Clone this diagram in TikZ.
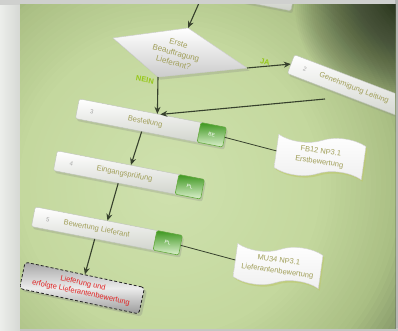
\documentclass[tikz,border=0pt]{standalone}
\usepackage{fontspec}
\setmainfont{Liberation Sans}
\usetikzlibrary{shapes.symbols,shadows,arrows.meta,calc}
\definecolor{vgA}{RGB}{207,225,174}
\definecolor{vgB}{RGB}{196,216,158}
\definecolor{vgC}{RGB}{170,191,132}
\definecolor{vgE}{RGB}{128,146,100}
\definecolor{vgD}{RGB}{60,70,50}
\definecolor{outbg}{RGB}{236,238,235}
\definecolor{outsh}{RGB}{214,216,212}
\definecolor{topband}{RGB}{207,208,206}
\definecolor{rstrip}{RGB}{181,182,180}
\definecolor{olive1}{RGB}{160,158,88}
\definecolor{arrcol}{RGB}{55,65,45}
\definecolor{yescol}{RGB}{150,200,25}
\definecolor{barbot}{RGB}{205,208,200}
\definecolor{barline}{RGB}{190,195,185}
\definecolor{tabtop}{RGB}{60,150,30}
\definecolor{tabbot}{RGB}{222,242,208}
\definecolor{tabline}{RGB}{100,170,60}
\definecolor{docsh}{RGB}{190,200,110}
\definecolor{redtxt}{RGB}{225,35,35}
\definecolor{dkcorner}{RGB}{40,48,34}
\begin{document}
\begin{tikzpicture}[x=1pt,y=-1pt,
  bar/.style={rectangle, rounded corners=2pt, minimum width=150pt, minimum height=20pt, rotate=-11, top color=white, bottom color=barbot, draw=barline, line width=0.4pt, drop shadow={opacity=0.25, shadow xshift=1.5pt, shadow yshift=-2.5pt}},
  tabbox/.style={rectangle, rounded corners=1.5pt, minimum width=26pt, minimum height=20pt, rotate=-11, top color=tabtop, bottom color=tabbot, draw=tabline, line width=0.6pt, text=white, font=\fontsize{5}{6}\selectfont, inner sep=0pt},
  lbl/.style={rotate=-11, text=olive1, font=\fontsize{7.5}{9}\selectfont, inner sep=0pt},
  num/.style={rotate=-11, text=gray!70, font=\fontsize{6}{7}\selectfont, inner sep=0pt},
  docbox/.style={tape, tape bend height=9pt, minimum width=88pt, minimum height=38pt, rotate=-8, top color=white, bottom color=gray!12, draw=gray!35, align=center, text=olive1, font=\fontsize{7.5}{11}\selectfont, drop shadow={fill=docsh, opacity=0.6, shadow xshift=1.5pt, shadow yshift=-2pt}},
  finbox/.style={rectangle, rounded corners=3pt, minimum width=122pt, minimum height=27pt, rotate=-12, top color=gray!70, bottom color=gray!80, middle color=gray!15, draw=black!85, densely dashed, line width=0.8pt, text=redtxt, align=center, font=\fontsize{7.5}{9.5}\selectfont, inner sep=1pt, drop shadow={opacity=0.3}},
  arr/.style={draw=arrcol, line width=1.1pt, -{Stealth[length=7pt,width=6pt]}},
  ln/.style={draw=arrcol, line width=0.8pt},
  yes/.style={text=yescol, font=\bfseries\fontsize{7.5}{8}\selectfont, rotate=-10, inner sep=0pt}
]
\useasboundingbox (0,0) rectangle (398,331);
% surroundings
\fill[outbg] (0,0) rectangle (398,331);
\shade[left color=outbg, right color=outsh] (0,5) rectangle (20,331);
\fill[topband] (0,0) rectangle (398,5);
\fill[rstrip] (395,0) rectangle (398,331);
\fill[rstrip!80!white] (20,328) rectangle (398,331);
\begin{scope}
\clip (20,5) rectangle (395,328);
% vignette as concentric discs
\coordinate (cen) at (170,185);
\fill[vgD] (20,5) rectangle (395,328);
\foreach \r in {326,321,...,280} {\pgfmathsetmacro\p{max(0,min(100,(\r-280)/40*100))}\fill[vgD!\p!vgE] (cen) circle (\r pt);}
\foreach \r in {276,271,...,230} {\pgfmathsetmacro\p{max(0,min(100,(\r-230)/50*100))}\fill[vgE!\p!vgC] (cen) circle (\r pt);}
\foreach \r in {226,221,...,150} {\pgfmathsetmacro\p{max(0,min(100,(\r-150)/80*100))}\fill[vgC!\p!vgB] (cen) circle (\r pt);}
\foreach \r in {146,140,...,6} {\pgfmathsetmacro\p{max(0,min(100,\r/150*100))}\fill[vgB!\p!vgA] (cen) circle (\r pt);}
% extra dark top-right corner
\foreach \r in {100,98,...,4} {\fill[dkcorner, opacity=0.026] (395,5) circle (\r pt);}
% partial box at top
\node[bar, minimum width=100pt, anchor=south east] (b1) at (291,11) {};
% diamond
\coordinate (dL) at (113,38);
\coordinate (dT) at (188,28);
\coordinate (dR) at (247,68);
\coordinate (dB) at (158,77);
\path[top color=white, bottom color=gray!40, draw=gray!40, drop shadow={opacity=0.25}] (dL) -- (dT) -- (dR) -- (dB) -- cycle;
\node[rotate=-15, align=center, text=olive1, font=\fontsize{8}{10}\selectfont, inner sep=0pt] (dq) at (176,53) {Erste\\Beauftragung\\Lieferant?};
% box 2
\node[bar, rotate=-10] (b2) at (361,91) {};
\node[num, rotate=-10] (n2) at ($(b2.west)!0.1!(b2.east)$) {2};
\node[lbl, rotate=-10] (l2) at ($(b2.west)!0.45!(b2.east)$) {Genehmigung Leitung};
% box 3
\node[bar] (b3) at (151,123) {};
\node[tabbox, anchor=east] (t3) at (b3.east) {BE};
\node[num] (n3) at ($(b3.west)!0.1!(b3.east)$) {3};
\node[lbl] (l3) at ($(b3.west)!0.46!(b3.east)$) {Bestellung};
% box 4
\node[bar] (b4) at (129,175) {};
\node[tabbox, anchor=east] (t4) at (b4.east) {PL};
\node[num] (n4) at ($(b4.west)!0.11!(b4.east)$) {4};
\node[lbl] (l4) at ($(b4.west)!0.47!(b4.east)$) {Eingangsprüfung};
% box 5
\node[bar] (b5) at (107,231) {};
\node[tabbox, anchor=east] (t5) at (b5.east) {PL};
\node[num] (n5) at ($(b5.west)!0.1!(b5.east)$) {5};
\node[lbl] (l5) at ($(b5.west)!0.43!(b5.east)$) {Bewertung Lieferant};
% final box
\node[finbox] (fin) at (82,288) {Lieferung und\\erfolgte Lieferantenbewertung};
% documents
\node[docbox] (fb) at (320,157) {FB12 NP3.1\\Erstbewertung};
\node[docbox, minimum width=86pt, minimum height=40pt] (mu) at (278,266) {MU34 NP3.1\\Lieferantenbewertung};
% labels
\node[yes] (ja) at (265,62) {JA};
\node[yes] (nein) at (145,80) {NEIN};
% connectors
\coordinate (tin) at (199,3);
\coordinate (c2) at (325,99);
\draw[arr] (tin) -- (dT);
\draw[arr] (dR) -- (b2.west);
\draw[arr] (dB) -- ($(b3.north west)!0.53!(b3.north east)$);
\draw[arr] (c2) -- ($(b3.north west)!0.55!(b3.north east)$);
\draw[arr] ($(b3.south west)!0.45!(b3.south east)$) -- ($(b4.north west)!0.5!(b4.north east)$);
\draw[arr] ($(b4.south west)!0.44!(b4.south east)$) -- ($(b5.north west)!0.49!(b5.north east)$);
\draw[arr] ($(b5.south west)!0.43!(b5.south east)$) -- ($(fin.north west)!0.5!(fin.north east)$);
\draw[ln] (t3.east) -- (fb.west);
\draw[ln] (t5.east) -- (mu.west);
\end{scope}
\end{tikzpicture}
\end{document}
